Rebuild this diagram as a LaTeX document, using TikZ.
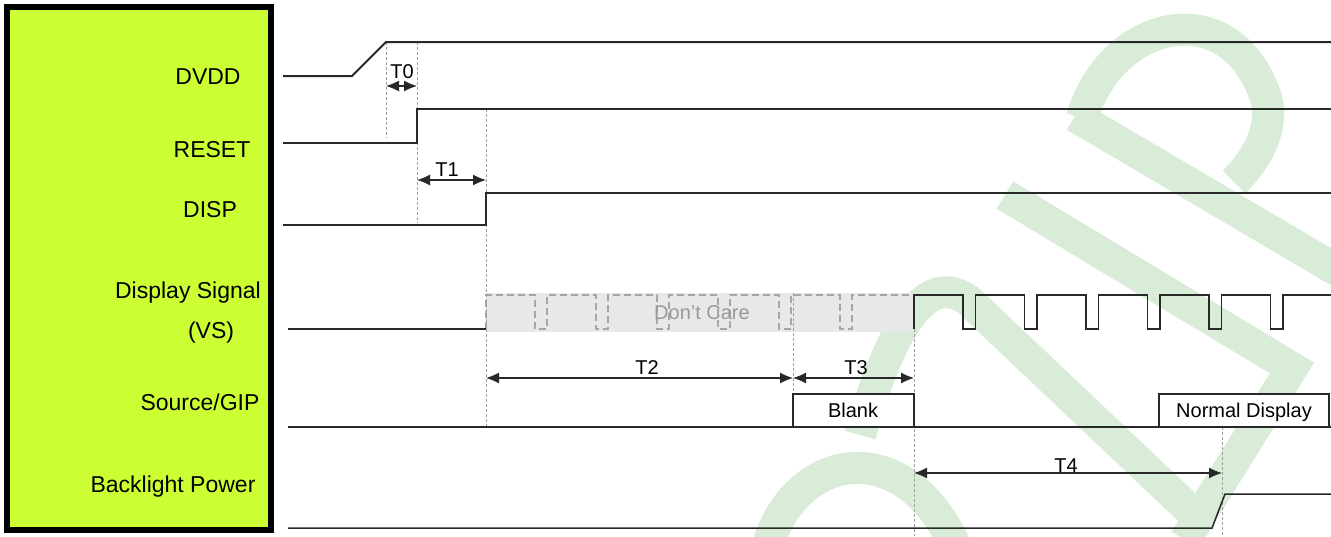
\documentclass[tikz,border=0pt]{standalone}
\usepackage{fontspec}
\setmainfont{Liberation Sans}
\usetikzlibrary{arrows.meta,positioning}
\definecolor{panelgreen}{RGB}{204,255,51}
\definecolor{wmgreen}{RGB}{216,236,216}
\definecolor{dcgray}{RGB}{232,232,232}
\definecolor{sigcol}{RGB}{40,40,40}
\tikzset{
  sig/.style      = {draw=sigcol, line width=0.75pt},
  guide/.style    = {draw=gray!75, line width=0.5pt, dash pattern=on 1.5pt off 1pt},
  span/.style     = {{Latex[length=6.5pt,width=5.5pt]}-{Latex[length=6.5pt,width=5.5pt]}, draw=sigcol, line width=0.6pt},
  dontcare/.style = {draw=gray!70, line width=0.6pt, dash pattern=on 3.5pt off 2pt},
  wm/.style       = {draw=wmgreen, line width=16pt},
  siglabel/.style = {font=\fontsize{11.5}{13}\selectfont, inner sep=0pt, anchor=base},
  tlabel/.style   = {font=\fontsize{10}{12}\selectfont, inner sep=0pt, anchor=base}
}

\begin{document}
\begin{tikzpicture}[x=0.5pt, y=-0.5pt]
    \useasboundingbox (0,0) rectangle (1331,536);
    \fill[white] (0,0) rectangle (1331,536);
    \clip (0,0) rectangle (1331,536);
    % Watermark
    \draw[wm] (768,545) .. controls (795,455) and (900,430) .. (955,545);
    \draw[wm] (860,435) .. controls (890,330) and (925,270) .. (968,300) -- (1192,512);
    \draw[wm] (1005,195) -- (1292,368) -- (1185,540);
    \draw[wm] (1075,116) -- (1340,272);
    \draw[wm] (1082,118) .. controls (1110,20) and (1230,-10) .. (1266,98) .. controls (1274,128) and (1258,158) .. (1234,182);
    % Label panel
    \draw[line width=3pt, fill=panelgreen] (7,7) rectangle (271,530);
    \node[siglabel] (dvdd)  at (208,84)  {DVDD};
    \node[siglabel] (reset) at (212,157) {RESET};
    \node[siglabel] (disp)  at (210,217) {DISP};
    \node[siglabel] (vs1)   at (188,298) {Display Signal};
    \node[siglabel] (vs2)   at (211,338) {(VS)};
    \node[siglabel] (src)   at (200,410) {Source/GIP};
    \node[siglabel] (bl)    at (173,492) {Backlight Power};
    % Timing marks
    \coordinate (m0a) at (386,42);   \coordinate (m0b) at (386,138);
    \coordinate (m1a) at (417,42);   \coordinate (m1b) at (417,223);
    \coordinate (m2a) at (486,109);  \coordinate (m2b) at (486,427);
    \coordinate (m3a) at (793,293);  \coordinate (m3b) at (793,394);
    \coordinate (m4a) at (914,329);  \coordinate (m4b) at (914,536);
    \coordinate (m5a) at (1222,427); \coordinate (m5b) at (1222,536);
    % Don't care area
    \fill[dcgray] (486,293) rectangle (914,332);
    \draw[dontcare] (486,329) -- (486,295)
      \foreach \k in {0,...,5}{ -- ({535+61*\k},295) -- ({535+61*\k},329) -- ({547+61*\k},329) -- ({547+61*\k},295) }
      -- (914,295);
    \node[tlabel, text=gray!80] (dc) at (702,319) {Don't Care};
    % Guides
    \foreach \g in {0,...,5}
      \draw[guide] (m\g a) -- (m\g b);
    % Signals
    \draw[sig, line width=1pt] (283,76) -- (352,76) -- (m0a) -- (1331,42);
    \draw[sig] (283,143) -- (417,143) -- (417,109) -- (1331,109);
    \draw[sig] (283,225) -- (486,225) -- (486,193) -- (1331,193);
    \draw[sig] (288,329) -- (486,329);
    \draw[sig] (m4a) -- (914,295)
      \foreach \k in {0,...,5}{ -- ({963+61.5*\k},295) -- ({963+61.5*\k},329) -- ({975.5+61.5*\k},329) -- ({975.5+61.5*\k},295) }
      -- (1331,295);
    \draw[sig] (288,427) -- (1331,427);
    \draw[sig] (288,528) -- (1212,528) -- (1225,494) -- (1331,494);
    % Source/GIP slots
    \draw[sig, fill=white] (793,427) rectangle (914,394);
    \draw[sig, fill=white] (1159,427) rectangle (1329,394);
    \node[tlabel] (blank)  at (853,417)  {Blank};
    \node[tlabel] (normal) at (1244,417) {Normal Display};
    % Spans
    \coordinate (s0a) at (386,86);   \coordinate (s0b) at (417,86);
    \coordinate (s1a) at (417,180);  \coordinate (s1b) at (486,180);
    \coordinate (s2a) at (486,378);  \coordinate (s2b) at (793,378);
    \coordinate (s3b) at (914,378);
    \coordinate (s4a) at (914,473);  \coordinate (s4b) at (1222,473);
    \draw[span] (s0a) -- (s0b);
    \draw[span] (s1a) -- (s1b);
    \draw[span] (s2a) -- (s2b);
    \draw[span] (s2b) -- (s3b);
    \draw[span] (s4a) -- (s4b);
    \node[tlabel] (t0) at (402,78)   {T0};
    \node[tlabel] (t1) at (447,176)  {T1};
    \node[tlabel] (t2) at (647,374)  {T2};
    \node[tlabel] (t3) at (856,374)  {T3};
    \node[tlabel] (t4) at (1066,472) {T4};
\end{tikzpicture}
\end{document}
